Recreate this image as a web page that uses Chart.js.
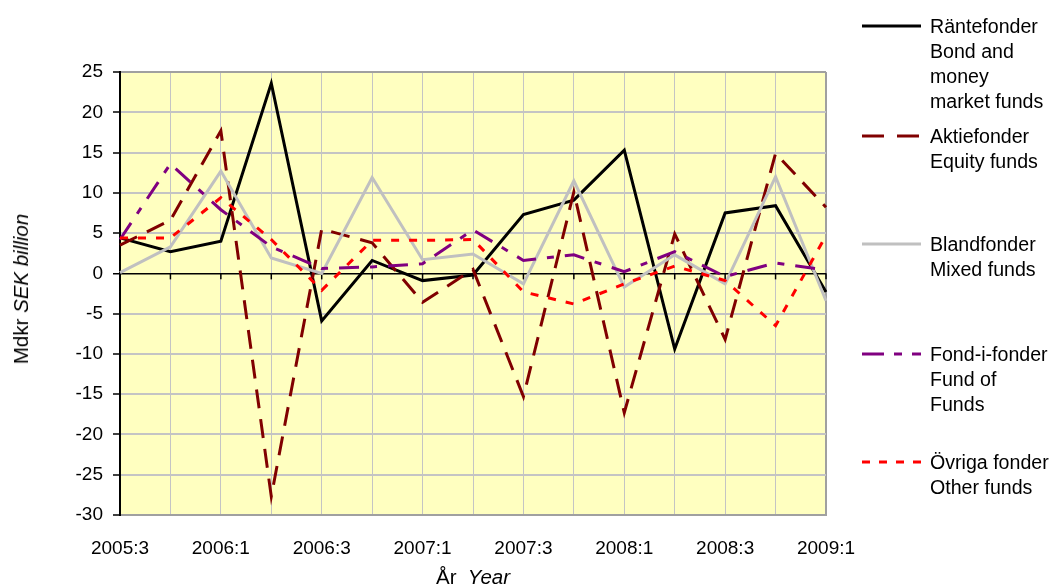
<!DOCTYPE html>
<html>
<head>
<meta charset="utf-8">
<script src="https://cdn.jsdelivr.net/npm/chart.js@4.4.1/dist/chart.umd.min.js"></script>
<style>
html,body{margin:0;padding:0;background:#fff;}
#wrap{position:relative;width:1050px;height:588px;font-family:"Liberation Sans",Arial,sans-serif;color:#000;overflow:hidden;}
#c{position:absolute;left:0;top:0;}
.ytitle{position:absolute;left:21px;top:289px;transform:translate(-50%,-50%) rotate(-90deg);font-size:20.5px;white-space:nowrap;}
.xtitle{position:absolute;left:473px;top:577px;transform:translate(-50%,-50%);font-size:20.5px;white-space:nowrap;}
.leg{position:absolute;left:930px;font-size:19.6px;line-height:25px;white-space:nowrap;}
.legsvg{position:absolute;left:862px;}
</style>
</head>
<body>
<div id="wrap">
<canvas id="c" width="1050" height="588"></canvas>
<div class="ytitle">Mdkr <i>SEK billion</i></div>
<div class="xtitle">År&nbsp;&nbsp;<i>Year</i></div>
</div>
<script>
const categories = ['2005:3','2005:4','2006:1','2006:2','2006:3','2006:4','2007:1','2007:2','2007:3','2007:4','2008:1','2008:2','2008:3','2008:4','2009:1'];
const rantefonder = [4.4, 2.7, 4.0, 23.6, -5.9, 1.6, -0.9, -0.2, 7.3, 9.1, 15.3, -9.4, 7.5, 8.4, -2.3];
const aktiefonder = [3.5, 6.6, 17.7, -27.7, 5.5, 3.8, -3.6, 0.5, -15.3, 10.1, -17.3, 4.9, -8.2, 14.9, 8.2];
const blandfonder = [0.1, 3.3, 12.7, 1.9, 0.0, 11.9, 1.7, 2.4, -1.3, 11.5, -1.7, 2.3, -1.3, 12.0, -3.4];
const fondIFonder = [4.2, 13.6, 7.9, 3.3, 0.6, 0.8, 1.2, 5.4, 1.6, 2.3, 0.2, 2.7, -0.4, 1.3, 0.4];
const ovrigaFonder = [4.4, 4.4, 9.4, 4.2, -2.1, 4.1, 4.1, 4.2, -2.3, -3.8, -1.3, 0.9, -0.9, -6.5, 4.7];
const seriesLabels = ['Räntefonder','Aktiefonder','Blandfonder','Fond-i-fonder','Övriga fonder'];
const legendLines = [
  ['Räntefonder','Bond and','money','market funds'],
  ['Aktiefonder','Equity funds'],
  ['Blandfonder','Mixed funds'],
  ['Fond-i-fonder','Fund of','Funds'],
  ['Övriga fonder','Other funds']
];
const yMin = -30, yMax = 25, yStep = 5;

const seriesData = [rantefonder, aktiefonder, blandfonder, fondIFonder, ovrigaFonder];
const colors = ['#000000','#800000','#C0C0C0','#800080','#FF0000'];
const dashes = [[], [19,11], [], [20,11,7,11], [8,10]];
const legendDashes = [[], [22,13], [], [22,10,8,10], [8,9]];
const legendY = [26, 136, 244, 354, 462];

Chart.defaults.font.family = '"Liberation Sans", Arial, sans-serif';
Chart.defaults.font.size = 19;
Chart.defaults.color = '#000';

const bgPlugin = {
  id: 'bg',
  beforeDraw(chart) {
    const {ctx, chartArea: a} = chart;
    ctx.save();
    ctx.fillStyle = '#FFFFC0';
    ctx.fillRect(a.left, a.top, a.right - a.left, a.bottom - a.top);
    ctx.restore();
  },
  beforeDatasetsDraw(chart) {
    const {ctx} = chart;
    const xs = chart.scales.x, ys = chart.scales.y;
    const y0 = ys.getPixelForValue(0);
    ctx.save();
    ctx.strokeStyle = '#000';
    ctx.lineWidth = 1.5;
    for (let i = 0; i < categories.length; i++) {
      const x = xs.getPixelForValue(i);
      ctx.beginPath();
      ctx.moveTo(x, y0);
      ctx.lineTo(x, y0 + 6);
      ctx.stroke();
    }
    ctx.restore();
  }
};

new Chart(document.getElementById('c'), {
  type: 'line',
  data: {
    labels: categories,
    datasets: seriesData.map((d, i) => ({
      label: seriesLabels[i],
      data: d,
      borderColor: colors[i],
      backgroundColor: colors[i],
      borderWidth: 3,
      borderDash: dashes[i],
      pointRadius: 0,
      tension: 0,
      fill: false,
      order: 5 - i
    }))
  },
  options: {
    responsive: false,
    animation: false,
    layout: {padding: {top: 72, right: 224, left: 0, bottom: 0}},
    plugins: {legend: {display: false}, tooltip: {enabled: false}},
    scales: {
      x: {
        type: 'category',
        offset: false,
        grid: {
          offset: false,
          color: (c) => c.index === categories.length - 1 ? '#a0a0a0' : '#c4c4c4',
          lineWidth: (c) => c.index === categories.length - 1 ? 2 : 1,
          drawTicks: false
        },
        border: {color: '#a0a0a0', width: 2},
        ticks: {
          autoSkip: false,
          maxRotation: 0,
          minRotation: 0,
          padding: 22,
          callback: (v, i) => i % 2 === 0 ? categories[i] : ''
        },
        afterFit(s) { s.height = 73; }
      },
      y: {
        min: yMin,
        max: yMax,
        ticks: {stepSize: yStep, padding: 10},
        grid: {
          color: (c) => c.tick && c.tick.value === 0 ? '#000' : (c.tick && c.tick.value === yMax ? '#a0a0a0' : '#c4c4c4'),
          lineWidth: (c) => c.tick && c.tick.value === 0 ? 1.5 : 2,
          tickColor: '#000',
          tickLength: 7,
          tickWidth: 1.5
        },
        border: {color: '#000', width: 2},
        afterFit(s) { s.width = 120; }
      }
    }
  },
  plugins: [bgPlugin]
});

const wrap = document.getElementById('wrap');
legendLines.forEach((lines, i) => {
  const d = document.createElement('div');
  d.className = 'leg';
  d.style.top = (legendY[i] - 12.5) + 'px';
  d.innerHTML = lines.join('<br>');
  wrap.appendChild(d);
  const ns = 'http://www.w3.org/2000/svg';
  const svg = document.createElementNS(ns, 'svg');
  svg.setAttribute('class', 'legsvg');
  svg.setAttribute('width', '60');
  svg.setAttribute('height', '8');
  svg.style.top = (legendY[i] - 4) + 'px';
  const ln = document.createElementNS(ns, 'line');
  ln.setAttribute('x1', '0'); ln.setAttribute('x2', '59');
  ln.setAttribute('y1', '4'); ln.setAttribute('y2', '4');
  ln.setAttribute('stroke', colors[i]);
  ln.setAttribute('stroke-width', '3');
  if (legendDashes[i].length) ln.setAttribute('stroke-dasharray', legendDashes[i].join(' '));
  svg.appendChild(ln);
  wrap.appendChild(svg);
});
</script>
</body>
</html>
